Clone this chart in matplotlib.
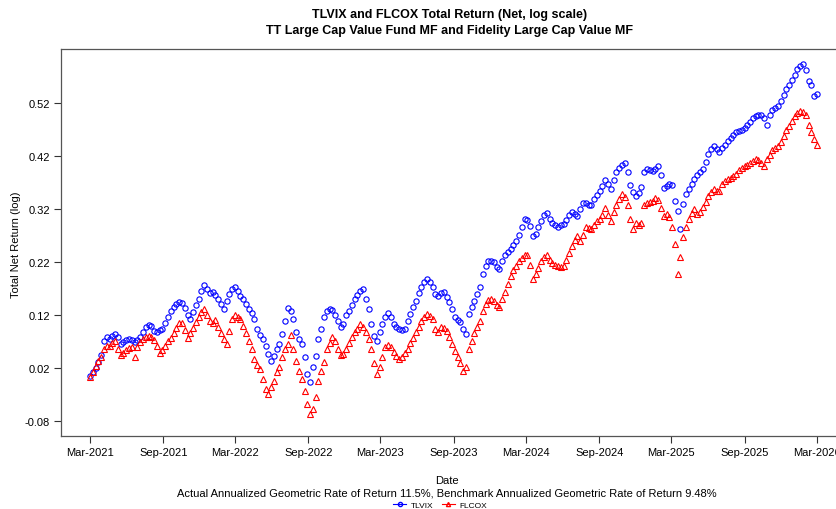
#!/usr/bin/env python3
"""TLVIX vs FLCOX total return (net, log scale), weekly points read off the chart."""
import matplotlib
matplotlib.use("Agg")
import matplotlib.pyplot as plt
import matplotlib.dates as mdates
import numpy as np
import pandas as pd

plt.rcParams["font.family"] = ["Liberation Sans", "DejaVu Sans"]

START = "2021-03-01"

# weekly total net return (log), TT Large Cap Value Fund
tlvix = [0.005, 0.012, 0.020, 0.031, 0.045, 0.071, 0.078, 0.075, 0.080, 0.084,
         0.078, 0.065, 0.069, 0.073, 0.075, 0.073, 0.069, 0.073, 0.078, 0.088,
         0.097, 0.101, 0.099, 0.090, 0.088, 0.092, 0.094, 0.105, 0.116, 0.128,
         0.135, 0.141, 0.145, 0.143, 0.133, 0.120, 0.112, 0.126, 0.139, 0.150,
         0.165, 0.177, 0.169, 0.162, 0.164, 0.158, 0.150, 0.141, 0.131, 0.146,
         0.160, 0.169, 0.173, 0.165, 0.156, 0.150, 0.141, 0.131, 0.124, 0.112,
         0.094, 0.082, 0.075, 0.061, 0.046, 0.033, 0.043, 0.056, 0.065, 0.084,
         0.109, 0.133, 0.128, 0.112, 0.088, 0.075, 0.065, 0.041, 0.009, -0.006,
         0.022, 0.043, 0.075, 0.094, 0.116, 0.128, 0.131, 0.129, 0.120, 0.109,
         0.097, 0.103, 0.120, 0.128, 0.139, 0.150, 0.158, 0.165, 0.169, 0.150,
         0.131, 0.103, 0.080, 0.071, 0.088, 0.103, 0.116, 0.124, 0.116, 0.103,
         0.097, 0.094, 0.092, 0.094, 0.109, 0.122, 0.135, 0.146, 0.162, 0.173,
         0.182, 0.188, 0.182, 0.173, 0.160, 0.156, 0.162, 0.163, 0.154, 0.145,
         0.131, 0.116, 0.111, 0.107, 0.094, 0.084, 0.122, 0.135, 0.146, 0.160,
         0.173, 0.197, 0.212, 0.222, 0.222, 0.220, 0.211, 0.207, 0.222, 0.233,
         0.239, 0.245, 0.252, 0.260, 0.271, 0.286, 0.301, 0.299, 0.288, 0.269,
         0.273, 0.286, 0.297, 0.309, 0.312, 0.301, 0.294, 0.290, 0.286, 0.290,
         0.292, 0.299, 0.309, 0.314, 0.311, 0.307, 0.320, 0.331, 0.331, 0.328,
         0.328, 0.339, 0.346, 0.354, 0.363, 0.375, 0.367, 0.358, 0.375, 0.390,
         0.397, 0.403, 0.407, 0.390, 0.365, 0.352, 0.345, 0.350, 0.362, 0.390,
         0.395, 0.394, 0.392, 0.395, 0.401, 0.384, 0.360, 0.363, 0.367, 0.365,
         0.335, 0.316, 0.282, 0.330, 0.348, 0.358, 0.367, 0.377, 0.384, 0.390,
         0.395, 0.409, 0.424, 0.433, 0.439, 0.433, 0.428, 0.435, 0.441, 0.448,
         0.454, 0.460, 0.465, 0.467, 0.469, 0.473, 0.479, 0.484, 0.492, 0.496,
         0.497, 0.497, 0.492, 0.479, 0.497, 0.507, 0.511, 0.514, 0.524, 0.535,
         0.546, 0.554, 0.563, 0.573, 0.584, 0.590, 0.594, 0.582, 0.562, 0.554,
         0.533, 0.537]

# weekly total net return (log), Fidelity Large Cap Value (benchmark)
flcox = [0.003, 0.012, 0.024, 0.033, 0.041, 0.056, 0.061, 0.061, 0.067, 0.071,
         0.056, 0.045, 0.048, 0.054, 0.058, 0.060, 0.041, 0.060, 0.069, 0.075,
         0.078, 0.080, 0.078, 0.073, 0.061, 0.048, 0.054, 0.061, 0.071, 0.077,
         0.086, 0.095, 0.105, 0.105, 0.092, 0.077, 0.086, 0.095, 0.107, 0.116,
         0.126, 0.131, 0.120, 0.109, 0.105, 0.111, 0.097, 0.086, 0.075, 0.065,
         0.090, 0.112, 0.120, 0.116, 0.112, 0.099, 0.086, 0.071, 0.056, 0.037,
         0.026, 0.018, -0.001, -0.020, -0.029, -0.016, -0.005, 0.012, 0.022, 0.041,
         0.056, 0.065, 0.082, 0.056, 0.033, 0.014, -0.001, -0.023, -0.048, -0.067,
         -0.057, -0.035, -0.005, 0.014, 0.031, 0.056, 0.067, 0.078, 0.071, 0.056,
         0.045, 0.046, 0.056, 0.067, 0.078, 0.088, 0.094, 0.103, 0.097, 0.088,
         0.075, 0.056, 0.029, 0.009, 0.022, 0.041, 0.060, 0.063, 0.060, 0.050,
         0.043, 0.037, 0.041, 0.048, 0.056, 0.067, 0.077, 0.088, 0.097, 0.109,
         0.116, 0.122, 0.118, 0.112, 0.094, 0.088, 0.097, 0.095, 0.090, 0.078,
         0.065, 0.052, 0.041, 0.029, 0.014, 0.022, 0.056, 0.071, 0.086, 0.097,
         0.109, 0.128, 0.141, 0.148, 0.150, 0.146, 0.139, 0.135, 0.150, 0.163,
         0.178, 0.194, 0.205, 0.212, 0.222, 0.228, 0.233, 0.233, 0.214, 0.188,
         0.197, 0.209, 0.222, 0.229, 0.233, 0.224, 0.218, 0.214, 0.212, 0.211,
         0.212, 0.224, 0.237, 0.250, 0.261, 0.269, 0.260, 0.271, 0.286, 0.284,
         0.282, 0.290, 0.297, 0.301, 0.309, 0.322, 0.309, 0.297, 0.314, 0.328,
         0.339, 0.348, 0.343, 0.328, 0.301, 0.282, 0.294, 0.290, 0.294, 0.328,
         0.331, 0.333, 0.335, 0.341, 0.337, 0.322, 0.307, 0.311, 0.305, 0.286,
         0.254, 0.197, 0.229, 0.267, 0.286, 0.301, 0.312, 0.320, 0.311, 0.314,
         0.324, 0.333, 0.345, 0.352, 0.358, 0.354, 0.354, 0.367, 0.373, 0.377,
         0.378, 0.382, 0.386, 0.394, 0.397, 0.401, 0.403, 0.407, 0.411, 0.414,
         0.412, 0.407, 0.401, 0.414, 0.422, 0.431, 0.435, 0.439, 0.446, 0.458,
         0.469, 0.477, 0.486, 0.496, 0.501, 0.505, 0.503, 0.497, 0.479, 0.465,
         0.452, 0.441]

yticks = [-0.08, 0.02, 0.12, 0.22, 0.32, 0.42, 0.52]
title = "TLVIX and FLCOX Total Return (Net, log scale)\nTT Large Cap Value Fund MF and Fidelity Large Cap Value MF"
subtitle = "Actual Annualized Geometric Rate of Return 11.5%, Benchmark Annualized Geometric Rate of Return 9.48%"


def main():
    n = min(len(tlvix), len(flcox))
    dates = pd.date_range(START, periods=n, freq="7D")

    W, H = 837, 510
    fig = plt.figure(figsize=(W / 100, H / 100), dpi=100)
    # plot box is cut off on the right in the original
    ax = fig.add_axes([61 / W, 73 / H, (846 - 61) / W, (437 - 50) / H])

    ax.plot(dates, tlvix[:n], ls="none", marker="o", ms=3.8, mfc="none", mec="#0000FF", mew=0.8)
    ax.plot(dates, flcox[:n], ls="none", marker="^", ms=4.3, mfc="none", mec="#FF0000", mew=0.8)

    pad = (dates[-1] - dates[0]) * 0.04
    ax.set_xlim(dates[0] - pad, dates[-1] + pad)
    ax.set_ylim(-0.108, 0.622)

    ax.xaxis.set_major_locator(mdates.MonthLocator(bymonth=[3, 9]))
    ax.xaxis.set_major_formatter(mdates.DateFormatter("%b-%Y"))
    ax.set_yticks(yticks)
    ax.set_yticklabels([f"{v:.2f}" for v in yticks])
    ax.tick_params(axis="both", direction="out", length=5, width=0.8, color="#333333",
                   labelsize=8, pad=3)
    for s in ax.spines.values():
        s.set_color("#555555")
        s.set_linewidth(0.9)

    fig.text(450 / W, 1 - 23 / H, title, ha="center", va="center", fontsize=9,
             fontweight="bold", linespacing=1.35)
    fig.text(16 / W, 1 - 245 / H, "Total Net Return (log)", rotation=90,
             ha="center", va="center", fontsize=8)
    fig.text(447 / W, 1 - 481 / H, "Date", ha="center", va="center", fontsize=8)
    fig.text(447 / W, 1 - 494 / H, subtitle, ha="center", va="center", fontsize=8)

    h1, = ax.plot([], [], color="#0000FF", lw=0.8, marker="o", ms=3, mfc="none")
    h2, = ax.plot([], [], color="#FF0000", lw=0.8, marker="^", ms=3, mfc="none")
    fig.legend([h1, h2], ["TLVIX", "FLCOX"], loc="center", ncol=2,
               bbox_to_anchor=(440 / W, 1 - 506 / H), frameon=False, fontsize=6,
               handlelength=1.6, handletextpad=0.5, columnspacing=1.0,
               borderpad=0.1)

    fig.savefig("out.png", dpi=100)
    plt.close(fig)


if __name__ == "__main__":
    main()
